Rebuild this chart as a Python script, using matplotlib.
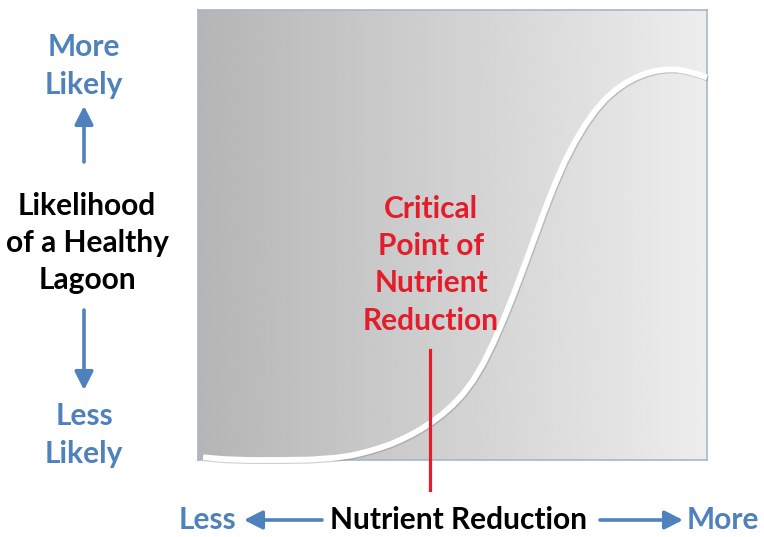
import numpy as np
import matplotlib
matplotlib.use("Agg")
import matplotlib.pyplot as plt
import matplotlib.patheffects as pe

# curve (x: nutrient reduction 0-100, y: likelihood 0-100)
reduction = [1, 5, 10, 16, 22, 27, 30, 32, 34, 36, 38, 40, 42, 44, 46, 48,
             50, 52, 54, 56, 58, 60, 62, 64, 66, 68, 70, 72, 74, 76, 78, 80,
             82, 84, 86, 88, 90, 92, 94, 96, 98, 100]
likelihood = [0.6, 0.2, 0, 0, 0.1, 0.5, 1.0, 1.5, 2.1, 2.8, 3.6, 4.6, 5.7,
              7.0, 8.5, 10.2, 12.2, 14.6, 17.6, 21.4, 26.0, 31.2, 36.8, 42.8,
              49.0, 55.2, 61.0, 66.2, 70.6, 74.4, 77.6, 80.2, 82.2, 83.8,
              85.0, 85.9, 86.5, 86.8, 86.8, 86.4, 85.8, 85.0]
critical_x = 45.6
critical_label = "Critical\nPoint of\nNutrient\nReduction"
y_label = "Likelihood\nof a Healthy\nLagoon"
x_label = "Nutrient Reduction"

W, H = 764, 537
BLUE = "#4f81bd"
RED = "#e31d2b"
FONT = "Lato"
FS = 21.5
LS = 1.4

fig = plt.figure(figsize=(W / 100, H / 100), dpi=100)
fig.patch.set_facecolor("white")


def fx(px):
    return px / W


def fy(py):
    return 1 - py / H


ax = fig.add_axes([fx(198), fy(460), (707 - 198) / W, (460 - 10) / H])
ax.set_xlim(0, 100)
ax.set_ylim(0, 100)

# grey gradient background, dark on the left
grad = np.linspace(0.71, 0.93, 256).reshape(1, -1)
ax.imshow(grad, cmap="gray", vmin=0, vmax=1, extent=[0, 100, 0, 100],
          aspect="auto", zorder=0)

for s in ax.spines.values():
    s.set_edgecolor("#a7b6c6")
    s.set_linewidth(1.2)
ax.set_xticks([])
ax.set_yticks([])

# white S-curve with a soft shadow
ax.plot(reduction, likelihood, color="white", lw=4.2, solid_capstyle="butt",
        solid_joinstyle="round", clip_on=False, zorder=3,
        path_effects=[pe.SimpleLineShadow(offset=(0.8, -0.8), shadow_color="#777777", alpha=0.35),
                      pe.Normal()])

# critical point marker
ax.plot([critical_x, critical_x], [24.4, -6.7], color=RED, lw=2.3,
        clip_on=False, zorder=4)

ax.text(critical_x + 0.2, 43.4, critical_label, color=RED, fontsize=FS,
        fontweight="bold", family=FONT, ha="center", va="center",
        linespacing=LS, zorder=5)

# left side labels
fig.text(fx(87), fy(243), y_label, color="black", fontsize=FS,
         fontweight="bold", family=FONT, ha="center", va="center",
         linespacing=LS)
fig.text(fx(84), fy(66), "More\nLikely", color=BLUE, fontsize=FS,
         fontweight="bold", family=FONT, ha="center", va="center",
         linespacing=LS)
fig.text(fx(84), fy(435), "Less\nLikely", color=BLUE, fontsize=FS,
         fontweight="bold", family=FONT, ha="center", va="center",
         linespacing=LS)

arrow = dict(arrowstyle="-|>,head_length=0.55,head_width=0.28", color=BLUE,
             lw=2.6, shrinkA=0, shrinkB=0)


def fig_arrow(x0, y0, x1, y1):
    fig.add_artist(matplotlib.patches.FancyArrowPatch(
        (fx(x0), fy(y0)), (fx(x1), fy(y1)), transform=fig.transFigure,
        mutation_scale=20, **arrow))


fig_arrow(84, 162, 84, 106)
fig_arrow(84, 310, 84, 390)

# bottom labels
fig.text(fx(459), fy(520), x_label, color="black", fontsize=FS,
         fontweight="bold", family=FONT, ha="center", va="center")
fig.text(fx(207), fy(520), "Less", color=BLUE, fontsize=FS,
         fontweight="bold", family=FONT, ha="center", va="center")
fig.text(fx(723), fy(520), "More", color=BLUE, fontsize=FS,
         fontweight="bold", family=FONT, ha="center", va="center")
fig_arrow(322, 520, 244, 520)
fig_arrow(600, 520, 683, 520)

fig.savefig("out.png", dpi=100, facecolor="white")
